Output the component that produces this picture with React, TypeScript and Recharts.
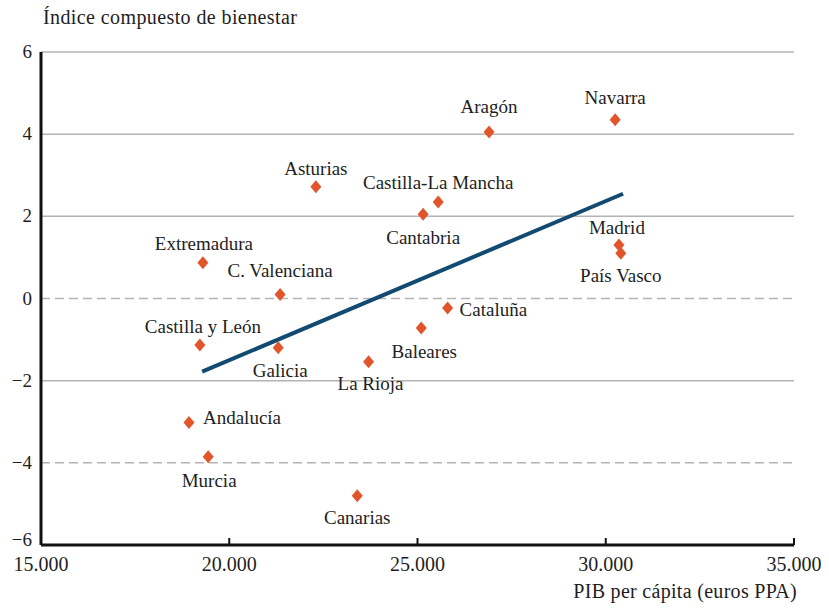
import { ReferenceLine, Scatter, ScatterChart, XAxis, YAxis } from "recharts";

// Comunidades autónomas: PIB per cápita (euros PPA) vs índice compuesto de bienestar
const regions = [
  "Aragón", "Navarra", "Asturias", "Castilla-La Mancha", "Cantabria", "Madrid",
  "País Vasco", "Cataluña", "Baleares", "La Rioja", "Galicia", "Castilla y León",
  "C. Valenciana", "Extremadura", "Andalucía", "Murcia", "Canarias",
];
const gdp = [
  26900, 30250, 22300, 25550, 25150, 30350,
  30400, 25800, 25100, 23700, 21300, 19220,
  21350, 19300, 18930, 19440, 23400,
];
const wellbeing = [
  4.05, 4.35, 2.72, 2.35, 2.05, 1.3,
  1.1, -0.23, -0.72, -1.54, -1.2, -1.13,
  0.1, 0.87, -3.02, -3.85, -4.8,
];

// trend line endpoints
const trendGdp = [19280, 30460];
const trendIndex = [-1.78, 2.55];

const xTicks = [15000, 20000, 25000, 30000, 35000];
const yTicks = [-6, -4, -2, 0, 2, 4, 6];
const solidGrid = [6, 4, 2, -2];
const dashedGrid = [0, -4];

// where each name sits relative to its marker
const labelPlace: Record<string, { anchor: "middle" | "start"; dx: number; dy: number }> = {
  "Aragón": { anchor: "middle", dx: 0, dy: -19 },
  "Navarra": { anchor: "middle", dx: 0, dy: -16 },
  "Asturias": { anchor: "middle", dx: 0, dy: -12 },
  "Castilla-La Mancha": { anchor: "middle", dx: 0, dy: -13 },
  "Cantabria": { anchor: "middle", dx: 0, dy: 30 },
  "Madrid": { anchor: "middle", dx: -2, dy: -11 },
  "País Vasco": { anchor: "middle", dx: 0, dy: 29 },
  "Cataluña": { anchor: "start", dx: 12, dy: 8 },
  "Baleares": { anchor: "middle", dx: 3, dy: 30 },
  "La Rioja": { anchor: "middle", dx: 2, dy: 28 },
  "Galicia": { anchor: "middle", dx: 2, dy: 29 },
  "Castilla y León": { anchor: "middle", dx: 3, dy: -12 },
  "C. Valenciana": { anchor: "middle", dx: 0, dy: -17 },
  "Extremadura": { anchor: "middle", dx: 1, dy: -13 },
  "Andalucía": { anchor: "start", dx: 14, dy: 1 },
  "Murcia": { anchor: "middle", dx: 1, dy: 30 },
  "Canarias": { anchor: "middle", dx: 0, dy: 28 },
};

const FONT = "'Liberation Serif', 'DejaVu Serif', serif";
const TEXT = "#1e1e1e";
const GRID = "#b4b4b4";

const thousands = (v: number) => String(v).replace(/\B(?=(\d{3})+(?!\d))/g, ".");

const points = regions.map((name, i) => ({ name, x: gdp[i], y: wellbeing[i] }));
const trend = trendGdp.map((x, i) => ({ x, y: trendIndex[i] }));

function Diamond(props: any) {
  const { cx, cy, payload } = props;
  if (cx == null || cy == null) return null;
  const place = labelPlace[payload.name];
  return (
    <g>
      <polygon
        points={`${cx},${cy - 6.5} ${cx + 5.5},${cy} ${cx},${cy + 6.5} ${cx - 5.5},${cy}`}
        fill="#e2552b"
      />
      <text
        x={cx + place.dx}
        y={cy + place.dy}
        textAnchor={place.anchor}
        fontFamily={FONT}
        fontSize={19}
        fill={TEXT}
      >
        {payload.name}
      </text>
    </g>
  );
}

function XTick(props: any) {
  const { x, y, payload } = props;
  return (
    <g>
      <line x1={x} y1={y} x2={x} y2={y - 7} stroke="#111" strokeWidth={2} />
      <text x={x} y={y + 26} textAnchor="middle" fontFamily={FONT} fontSize={20} fill={TEXT}>
        {thousands(payload.value)}
      </text>
    </g>
  );
}

function YTick(props: any) {
  const { x, y, payload } = props;
  // the lowest label sits a little above the x axis, as in the source
  const lift = payload.value === yTicks[0] ? -5 : 0;
  return (
    <text x={x} y={y + lift} dy={6} textAnchor="end" fontFamily={FONT} fontSize={19} fill={TEXT}>
      {String(payload.value).replace("-", "−")}
    </text>
  );
}

export default function App() {
  return (
    <div style={{ position: "fixed", left: 0, top: 0, width: 829, height: 608, background: "#fff" }}>
      <div
        style={{
          position: "absolute", left: 43, top: 6, fontFamily: FONT, fontSize: 20, color: TEXT,
          whiteSpace: "nowrap", letterSpacing: 0.4,
        }}
      >
        Índice compuesto de bienestar
      </div>
      <div
        style={{
          position: "absolute", right: 32, top: 580, fontFamily: FONT, fontSize: 20, color: TEXT,
          whiteSpace: "nowrap", letterSpacing: 0.3,
        }}
      >
        PIB per cápita (euros PPA)
      </div>
      <ScatterChart width={829} height={608} margin={{ top: 52, right: 35, bottom: 23, left: 0 }}>
        <XAxis
          type="number"
          dataKey="x"
          domain={[15000, 35000]}
          ticks={xTicks}
          height={40}
          tickSize={0}
          tickMargin={0}
          tickLine={false}
          axisLine={{ stroke: "#111", strokeWidth: 3 }}
          tick={<XTick />}
        />
        <YAxis
          type="number"
          dataKey="y"
          domain={[-6, 6]}
          ticks={yTicks}
          width={41}
          tickSize={0}
          tickMargin={9}
          tickLine={false}
          axisLine={{ stroke: "#111", strokeWidth: 3 }}
          tick={<YTick />}
        />
        {solidGrid.map((v) => (
          <ReferenceLine key={`s${v}`} y={v} stroke={GRID} strokeWidth={1.5} />
        ))}
        {dashedGrid.map((v) => (
          <ReferenceLine key={`d${v}`} y={v} stroke={GRID} strokeWidth={1.5} strokeDasharray="9 5" />
        ))}
        <Scatter
          data={trend}
          line={{ stroke: "#134a72", strokeWidth: 4 }}
          shape={() => null}
          isAnimationActive={false}
        />
        <Scatter data={points} shape={<Diamond />} isAnimationActive={false} />
      </ScatterChart>
    </div>
  );
}
